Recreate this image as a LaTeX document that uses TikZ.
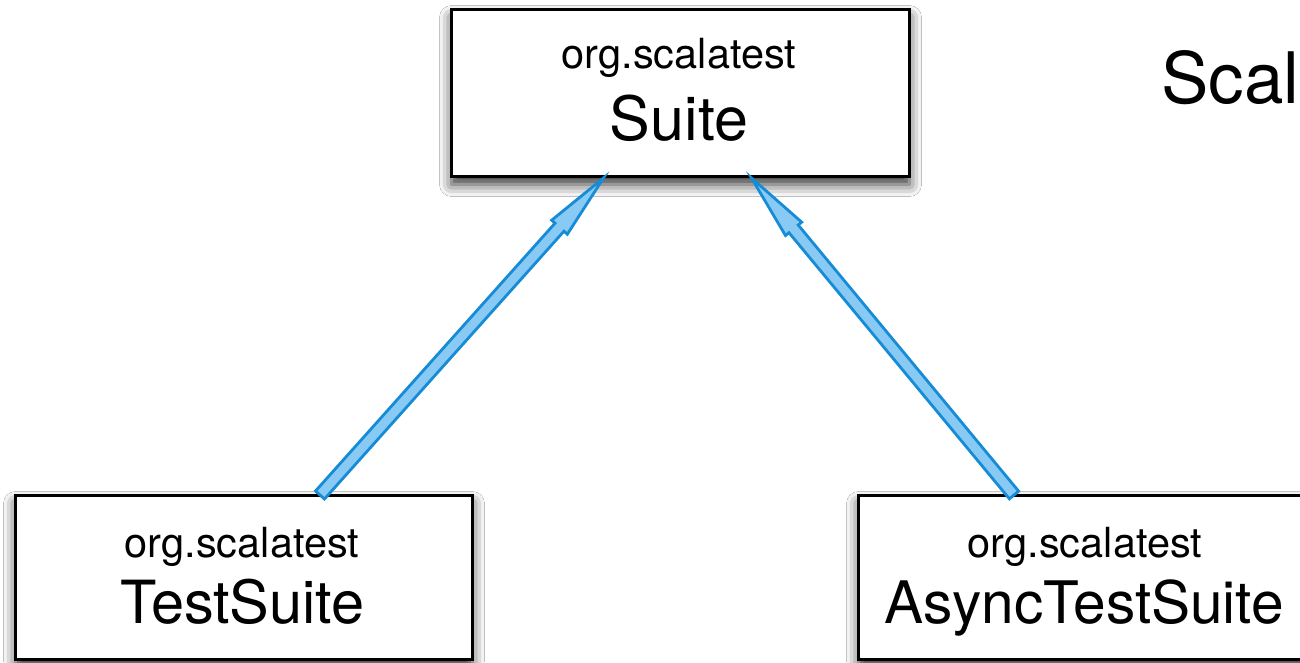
\documentclass[tikz,border=0pt]{standalone}
\usepackage{fontspec}
\setmainfont{TeX Gyre Heros}
\usetikzlibrary{calc,shadows.blur}
\definecolor{arrowfill}{RGB}{137,202,245}
\definecolor{arrowline}{RGB}{22,140,214}
\tikzset{
  classbox/.style={draw=black, line width=3pt, fill=white, inner sep=0pt,
    blur shadow={shadow xshift=0pt, shadow yshift=-8pt, shadow blur radius=12pt, shadow opacity=80}},
  pkg/.style={anchor=base, inner sep=0pt, font=\fontsize{41.5}{41.5}\selectfont},
  cls/.style={anchor=base, inner sep=0pt},
  inherit/.style={fill=arrowfill, draw=arrowline, line width=2.8pt, line join=miter},
}
\newcommand\fatarrow[2]{%
  \coordinate (hb) at ($(#2)!66pt!(#1)$);
  \draw[inherit] ($(#1)!6pt!90:(#2)$) -- ($(hb)!6pt!90:(#2)$) -- ($(hb)!10.5pt!90:(#2)$)
    -- (#2) -- ($(hb)!10.5pt!-90:(#2)$) -- ($(hb)!6pt!-90:(#2)$) -- ($(#1)!6pt!-90:(#2)$) -- cycle;
}
\begin{document}
\begin{tikzpicture}[x=1pt,y=-1pt]
\useasboundingbox[fill=white] (0,0) rectangle (1300,662);
% boxes
\node[classbox, minimum width=458pt, minimum height=167pt] (suite) at (680.5,93) {};
\node[classbox, minimum width=457pt, minimum height=164pt] (testsuite) at (244,577.5) {};
\node[classbox, minimum width=453pt, minimum height=164pt] (async) at (1085,577.5) {};
% texts
\node[pkg] (suitepkg) at (679,68) {org.scalatest};
\node[cls, font=\fontsize{61}{61}\selectfont] (suitename) at (679,140) {Suite};
\node[pkg] (testpkg) at (242,557) {org.scalatest};
\node[cls, font=\fontsize{59.5}{59.5}\selectfont] (testname) at (242.5,623) {TestSuite};
\node[pkg] (asyncpkg) at (1085,557) {org.scalatest};
\node[cls, font=\fontsize{58.6}{58.6}\selectfont] (asyncname) at (1084,623) {AsyncTestSuite};
\node[anchor=base west, inner sep=0pt, font=\fontsize{71}{71}\selectfont] (title) at (1161,103) {Scal};
% arrows
\coordinate (t1) at ([xshift=76pt,yshift=-1pt]testsuite.north);
\coordinate (h1) at ([xshift=-77pt]suite.south);
\coordinate (t2) at ([xshift=-71pt,yshift=-1pt]async.north);
\coordinate (h2) at ([xshift=71pt]suite.south);
\fatarrow{t1}{h1}
\fatarrow{t2}{h2}
\end{tikzpicture}
\end{document}
